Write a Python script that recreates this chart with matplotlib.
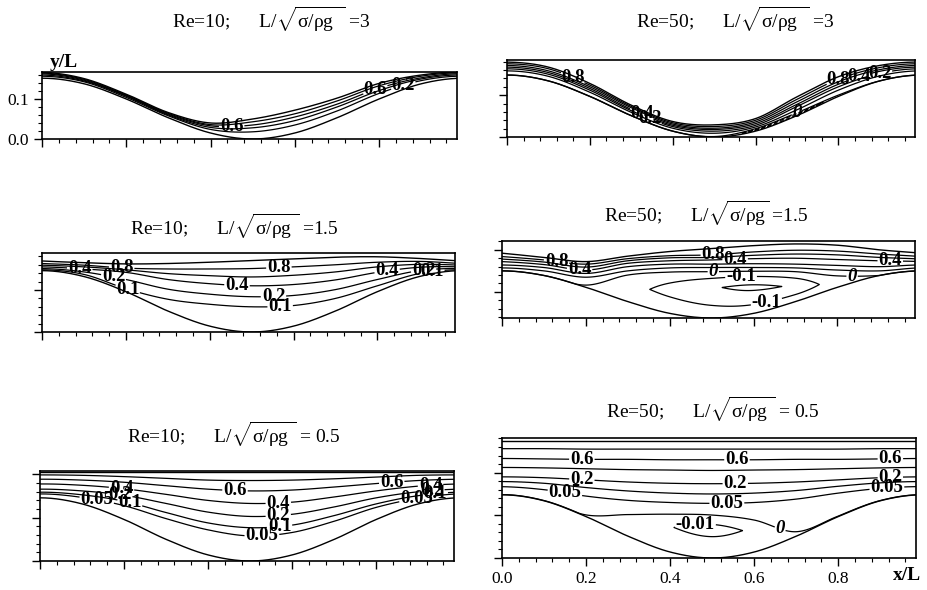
import numpy as np
import matplotlib.pyplot as plt
from matplotlib.ticker import MultipleLocator, NullFormatter

plt.rcParams['font.family'] = 'Liberation Serif'
plt.rcParams['mathtext.fontset'] = 'custom'
plt.rcParams['mathtext.rm'] = 'Liberation Serif'
plt.rcParams['mathtext.it'] = 'Liberation Serif'
plt.rcParams['mathtext.bf'] = 'Liberation Serif:bold'

stations = [0.0, 0.1, 0.2, 0.3, 0.4, 0.5, 0.6, 0.7, 0.8, 0.9]

# ---- Re=10, L/sqrt(sigma/rho g) = 3
p1_wall = [0.152, 0.138, 0.100, 0.053, 0.015, 0.000, 0.015, 0.053, 0.100, 0.138]
p1_surf = [0.167, 0.151, 0.112, 0.066, 0.040, 0.050, 0.072, 0.102, 0.139, 0.160]
p1_levels = [0.2, 0.4, 0.6, 0.8]
p1_lines = [[0.157, 0.143, 0.104, 0.058, 0.024, 0.018, 0.035, 0.070, 0.114, 0.146],
            [0.160, 0.145, 0.107, 0.060, 0.029, 0.028, 0.046, 0.080, 0.121, 0.150],
            [0.163, 0.147, 0.108, 0.062, 0.033, 0.035, 0.055, 0.087, 0.127, 0.153],
            [0.165, 0.149, 0.110, 0.064, 0.036, 0.043, 0.063, 0.095, 0.133, 0.157]]
p1_labels = [(0.6, 0.45, 0.035), (0.6, 0.79, 0.127), (0.2, 0.86, 0.125)]

# ---- Re=50, L/sqrt(sigma/rho g) = 3
p2_wall = [0.148, 0.134, 0.097, 0.051, 0.014, 0.000, 0.014, 0.051, 0.097, 0.134]
p2_surf = [0.179, 0.167, 0.128, 0.076, 0.037, 0.029, 0.044, 0.096, 0.144, 0.171]
p2_levels = [0.0, 0.1, 0.2, 0.4, 0.6, 0.8]
p2_lines = [[0.148, 0.134, 0.097, 0.051, 0.014, 0.001, 0.020, 0.058, 0.100, 0.134],
            [0.158, 0.145, 0.107, 0.059, 0.021, 0.009, 0.024, 0.065, 0.112, 0.146],
            [0.163, 0.150, 0.112, 0.063, 0.025, 0.014, 0.028, 0.073, 0.120, 0.152],
            [0.167, 0.154, 0.116, 0.066, 0.028, 0.018, 0.032, 0.078, 0.126, 0.157],
            [0.171, 0.158, 0.120, 0.070, 0.031, 0.021, 0.036, 0.084, 0.132, 0.161],
            [0.175, 0.163, 0.124, 0.073, 0.034, 0.025, 0.040, 0.090, 0.138, 0.166]]
p2_eddy_h = [0.148, 0.134, 0.097, 0.051, 0.014, 0.0005, 0.017, 0.054, 0.099, 0.134]
p2_eddy_psi = [0, 0, 0, 0, 0, 0, -0.003, -0.004, -0.001, 0]
p2_eddy_levels = [-0.002]
p2_labels = [(0.8, 0.16, 0.145), (0.4, 0.33, 0.066), (0.2, 0.35, 0.055), (0.0, 0.70, 0.058),
             (0.8, 0.80, 0.138), (0.4, 0.85, 0.142), (0.2, 0.90, 0.150)]

# ---- Re=10, L/sqrt(sigma/rho g) = 1.5
p3_wall = [0.146, 0.132, 0.096, 0.050, 0.014, 0.000, 0.014, 0.050, 0.096, 0.132]
p3_surf = [0.169, 0.165, 0.162, 0.163, 0.166, 0.170, 0.174, 0.178, 0.179, 0.175]
p3_levels = [0.1, 0.2, 0.4, 0.6, 0.8]
p3_lines = [[0.148, 0.137, 0.103, 0.078, 0.066, 0.060, 0.063, 0.080, 0.110, 0.139],
            [0.151, 0.143, 0.125, 0.102, 0.090, 0.084, 0.087, 0.101, 0.125, 0.146],
            [0.155, 0.150, 0.142, 0.125, 0.115, 0.110, 0.113, 0.124, 0.142, 0.154],
            [0.159, 0.155, 0.148, 0.139, 0.134, 0.131, 0.135, 0.143, 0.155, 0.161],
            [0.163, 0.159, 0.152, 0.150, 0.150, 0.151, 0.155, 0.160, 0.166, 0.168]]
p3_labels = [(0.4, 0.09, 0.150), (0.8, 0.19, 0.152), (0.2, 0.17, 0.128), (0.1, 0.205, 0.105),
             (0.8, 0.565, 0.153), (0.4, 0.465, 0.111), (0.2, 0.552, 0.085), (0.1, 0.568, 0.061),
             (0.4, 0.823, 0.146), (0.2, 0.91, 0.148), (0.1, 0.93, 0.143)]

# ---- Re=50, L/sqrt(sigma/rho g) = 1.5
p4_wall = [0.150, 0.139, 0.111, 0.077, 0.049, 0.038, 0.049, 0.077, 0.111, 0.139]
p4_surf = [0.192, 0.182, 0.172, 0.185, 0.196, 0.203, 0.210, 0.214, 0.211, 0.200]
p4_levels = [0.0, 0.1, 0.2, 0.4, 0.6, 0.8]
p4_lines = [[0.150, 0.139, 0.116, 0.140, 0.147, 0.148, 0.149, 0.148, 0.138, 0.139],
            [0.157, 0.150, 0.135, 0.150, 0.157, 0.158, 0.158, 0.157, 0.152, 0.150],
            [0.164, 0.158, 0.144, 0.160, 0.166, 0.166, 0.167, 0.166, 0.163, 0.160],
            [0.172, 0.165, 0.152, 0.168, 0.174, 0.176, 0.179, 0.180, 0.177, 0.174],
            [0.178, 0.171, 0.159, 0.174, 0.181, 0.182, 0.187, 0.190, 0.188, 0.182],
            [0.184, 0.176, 0.166, 0.179, 0.186, 0.188, 0.195, 0.199, 0.197, 0.190]]
p4_eddy_h = [0.150, 0.139, 0.112, 0.105, 0.108, 0.110, 0.112, 0.114, 0.122, 0.139]
p4_eddy_psi = [0, 0, 0, -0.05, -0.15, -0.24, -0.30, -0.22, -0.02, 0]
p4_eddy_levels = [-0.1, -0.26]
p4_labels = [(0.8, 0.13, 0.172), (0.4, 0.185, 0.152), (0.8, 0.504, 0.188), (0.4, 0.556, 0.177),
             (0.0, 0.504, 0.148), (-0.1, 0.57, 0.140), (-0.1, 0.632, 0.070), (0.0, 0.835, 0.136),
             (0.4, 0.926, 0.175)]

# ---- Re=10, L/sqrt(sigma/rho g) = 0.5
p5_wall = [0.146, 0.132, 0.096, 0.050, 0.014, 0.000, 0.014, 0.050, 0.096, 0.132]
p5_surf = [0.205, 0.205, 0.205, 0.205, 0.205, 0.205, 0.205, 0.205, 0.205, 0.205]
p5_levels = [0.05, 0.1, 0.2, 0.4, 0.6, 0.8]
p5_lines = [[0.155, 0.147, 0.128, 0.098, 0.072, 0.058, 0.066, 0.092, 0.124, 0.145],
            [0.159, 0.153, 0.138, 0.112, 0.088, 0.077, 0.083, 0.105, 0.132, 0.151],
            [0.166, 0.162, 0.152, 0.133, 0.113, 0.103, 0.108, 0.125, 0.146, 0.160],
            [0.178, 0.175, 0.167, 0.154, 0.140, 0.133, 0.136, 0.148, 0.162, 0.173],
            [0.189, 0.187, 0.182, 0.174, 0.166, 0.162, 0.164, 0.171, 0.179, 0.186],
            [0.199, 0.198, 0.195, 0.191, 0.187, 0.186, 0.187, 0.190, 0.194, 0.198]]
p5_labels = [(0.4, 0.194, 0.168), (0.2, 0.19, 0.152), (0.05, 0.135, 0.141), (0.1, 0.215, 0.140),
             (0.6, 0.464, 0.165), (0.4, 0.567, 0.134), (0.2, 0.567, 0.104), (0.1, 0.57, 0.078),
             (0.05, 0.528, 0.058), (0.6, 0.837, 0.180), (0.4, 0.929, 0.177), (0.2, 0.932, 0.168),
             (0.1, 0.94, 0.160), (0.05, 0.895, 0.148)]

# ---- Re=50, L/sqrt(sigma/rho g) = 0.5
p6_wall = [0.148, 0.134, 0.097, 0.051, 0.014, 0.000, 0.014, 0.051, 0.097, 0.134]
p6_surf = [0.275, 0.275, 0.275, 0.275, 0.275, 0.275, 0.275, 0.275, 0.275, 0.275]
p6_levels = [0.0, 0.05, 0.1, 0.2, 0.4, 0.6, 0.8]
p6_lines = [[0.148, 0.134, 0.100, 0.101, 0.102, 0.100, 0.088, 0.060, 0.097, 0.134],
            [0.167, 0.160, 0.145, 0.135, 0.130, 0.128, 0.130, 0.138, 0.152, 0.163],
            [0.179, 0.175, 0.165, 0.157, 0.152, 0.150, 0.152, 0.158, 0.168, 0.176],
            [0.190, 0.188, 0.183, 0.178, 0.175, 0.174, 0.175, 0.178, 0.183, 0.188],
            [0.212, 0.211, 0.209, 0.207, 0.206, 0.205, 0.206, 0.207, 0.209, 0.211],
            [0.233, 0.232, 0.231, 0.231, 0.230, 0.230, 0.230, 0.231, 0.231, 0.232],
            [0.256, 0.256, 0.255, 0.255, 0.255, 0.255, 0.255, 0.255, 0.255, 0.256]]
p6_eddy_h = [0.148, 0.134, 0.098, 0.080, 0.072, 0.070, 0.062, 0.057, 0.097, 0.134]
p6_eddy_psi = [0, 0, 0, -0.003, -0.0095, -0.014, -0.008, -0.001, 0, 0]
p6_eddy_levels = [-0.01]
p6_labels = [(0.6, 0.19, 0.231), (0.2, 0.19, 0.184), (0.05, 0.15, 0.155), (0.6, 0.559, 0.230),
             (0.2, 0.555, 0.175), (0.05, 0.535, 0.128), (0.6, 0.924, 0.232), (0.2, 0.924, 0.186),
             (0.05, 0.916, 0.160), (0.0, 0.662, 0.069), (-0.01, 0.46, 0.077)]


def periodic(vals, x):
    # smooth periodic curve through the read stations (Catmull-Rom)
    v = np.asarray(vals, float)
    n = len(v)
    t = np.asarray(x) * n
    i = np.floor(t).astype(int)
    u = t - i
    a, b, c, d = v[(i - 1) % n], v[i % n], v[(i + 1) % n], v[(i + 2) % n]
    return 0.5 * (2 * b + (c - a) * u + (2 * a - 5 * b + 4 * c - d) * u ** 2
                  + (3 * b - a - 3 * c + d) * u ** 3)


def stream_field(xg, yg, wall, surf, levels, lines, eddy_h=None, eddy_psi=None):
    w = periodic(wall, xg)
    s = periodic(surf, xg)
    hs, ps = [w], [np.zeros_like(xg)]
    if eddy_h is not None:
        hs.append(periodic(eddy_h, xg))
        ps.append(np.minimum(periodic(eddy_psi, xg), 0.0))
    for lev, h in zip(levels, lines):
        hs.append(periodic(h, xg))
        ps.append(np.full_like(xg, lev))
    hs.append(s)
    ps.append(np.ones_like(xg))
    H = np.maximum.accumulate(np.array(hs), axis=0) + 1e-6 * np.arange(len(hs))[:, None]
    P = np.array(ps)
    psi = np.empty((len(yg), len(xg)))
    for j in range(len(xg)):
        psi[:, j] = np.interp(yg, H[:, j], P[:, j])
    return w, s, psi


def level_text(v):
    return '0' if v == 0 else f'{v:g}'


def draw_panel(ax, ylim, wall, surf, levels, lines, labels,
               eddy_h=None, eddy_psi=None, eddy_levels=(), eddy_style='solid'):
    xg = np.linspace(0, 0.985, 700)
    yg = np.linspace(ylim[0], ylim[1], 800)
    w, s, psi = stream_field(xg, yg, wall, surf, levels, lines, eddy_h, eddy_psi)

    sets = {}
    for lev in list(levels) + list(eddy_levels):
        drawn = 1e-3 if lev == 0 else lev
        style = eddy_style if lev in eddy_levels else 'solid'
        sets[lev] = ax.contour(xg, yg, psi, levels=[drawn], colors='k',
                               linewidths=0.9, linestyles=style)
    ax.plot(xg, w, color='k', lw=1.0)
    ax.plot(xg, s, color='k', lw=1.0)

    ax.set_xlim(0, 0.985)
    ax.set_ylim(*ylim)
    ax.xaxis.set_major_locator(MultipleLocator(0.2))
    ax.xaxis.set_minor_locator(MultipleLocator(0.04))
    ax.yaxis.set_major_locator(MultipleLocator(0.1))
    ax.yaxis.set_minor_locator(MultipleLocator(0.02))
    ax.tick_params(which='major', direction='out', length=6, width=1.0, labelsize=12.5)
    ax.tick_params(which='minor', direction='out', length=3, width=0.8)
    ax.xaxis.set_major_formatter(NullFormatter())
    ax.yaxis.set_major_formatter(NullFormatter())
    for sp in ax.spines.values():
        sp.set_linewidth(1.2)

    with plt.rc_context({'font.family': 'Liberation Serif', 'font.weight': 'bold'}):
        for lev, lx, ly in labels:
            txt = ax.clabel(sets[lev], manual=[(lx, ly)], inline=True, inline_spacing=1,
                            fontsize=13.5, fmt=lambda v, lev=lev: level_text(lev))
            for t in txt:
                t.set_rotation(0)
                # the zero streamline is tagged with an italic 0 in the source figure
                if lev == 0 and not (0.45 < lx < 0.55):
                    t.set_style('italic')


fig = plt.figure(figsize=(9.28, 5.90), dpi=100)
W, Hh = 928.0, 590.0


def add_axes(x0, x1, y0, y1):
    return fig.add_axes([x0 / W, 1 - y1 / Hh, (x1 - x0) / W, (y1 - y0) / Hh])


ax1 = add_axes(42, 457, 72, 139)
ax2 = add_axes(507, 915, 60, 137)
ax3 = add_axes(42, 455, 253, 332)
ax4 = add_axes(502, 915, 241, 318)
ax5 = add_axes(40, 454, 471, 561)
ax6 = add_axes(502, 916, 438, 558)

draw_panel(ax1, (0, 0.1675), p1_wall, p1_surf, p1_levels, p1_lines, p1_labels)
draw_panel(ax2, (0, 0.184), p2_wall, p2_surf, p2_levels, p2_lines, p2_labels,
           p2_eddy_h, p2_eddy_psi, p2_eddy_levels, eddy_style='dashed')
draw_panel(ax3, (0, 0.188), p3_wall, p3_surf, p3_levels, p3_lines, p3_labels)
draw_panel(ax4, (0.038, 0.221), p4_wall, p4_surf, p4_levels, p4_lines, p4_labels,
           p4_eddy_h, p4_eddy_psi, p4_eddy_levels)
draw_panel(ax5, (0, 0.208), p5_wall, p5_surf, p5_levels, p5_lines, p5_labels)
draw_panel(ax6, (0, 0.281), p6_wall, p6_surf, p6_levels, p6_lines, p6_labels,
           p6_eddy_h, p6_eddy_psi, p6_eddy_levels)

ax1.yaxis.set_major_formatter(plt.FormatStrFormatter('%.1f'))
ax6.xaxis.set_major_formatter(plt.FormatStrFormatter('%.1f'))

titles = [(172, 28, r'Re=10;      L/$\sqrt{\sigma/\rho g\;\;}$ =3'),
          (636, 28, r'Re=50;      L/$\sqrt{\sigma/\rho g\;\;}$ =3'),
          (130, 235, r'Re=10;      L/$\sqrt{\sigma/\rho g\;}$ =1.5'),
          (604, 222, r'Re=50;      L/$\sqrt{\sigma/\rho g}$ =1.5'),
          (127, 443, r'Re=10;      L/$\sqrt{\sigma/\rho g\;}$ = 0.5'),
          (606, 418, r'Re=50;      L/$\sqrt{\sigma/\rho g\;}$ = 0.5')]
for px, py, text in titles:
    fig.text(px / W, 1 - py / Hh, text, fontsize=14, ha='left', va='baseline')

fig.text(50 / W, 1 - 67 / Hh, 'y/L', fontsize=14, fontweight='bold', ha='left', va='baseline')
fig.text(893 / W, 1 - 580 / Hh, 'x/L', fontsize=14, fontweight='bold', ha='left', va='baseline')

fig.savefig('out.png', dpi=100)
